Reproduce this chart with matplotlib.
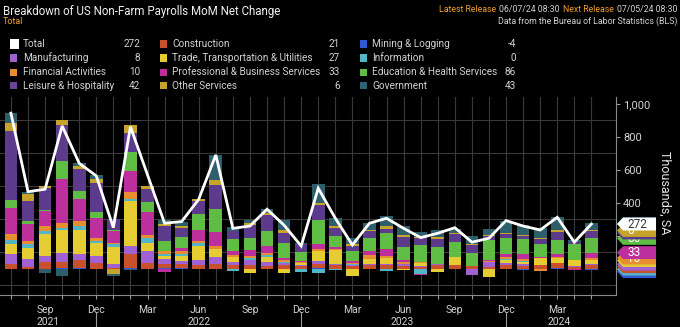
import numpy as np
import matplotlib
matplotlib.use('Agg')
import matplotlib.pyplot as plt
import matplotlib.transforms as mtrans
from matplotlib.patches import Polygon, Rectangle

plt.rcParams['font.family'] = ['Roboto', 'DejaVu Sans']

# monthly data, Jul 2021 .. May 2024 (thousands, SA)
months = ['Jul 2021', 'Aug 2021', 'Sep 2021', 'Oct 2021', 'Nov 2021', 'Dec 2021',
          'Jan 2022', 'Feb 2022', 'Mar 2022', 'Apr 2022', 'May 2022', 'Jun 2022',
          'Jul 2022', 'Aug 2022', 'Sep 2022', 'Oct 2022', 'Nov 2022', 'Dec 2022',
          'Jan 2023', 'Feb 2023', 'Mar 2023', 'Apr 2023', 'May 2023', 'Jun 2023',
          'Jul 2023', 'Aug 2023', 'Sep 2023', 'Oct 2023', 'Nov 2023', 'Dec 2023',
          'Jan 2024', 'Feb 2024', 'Mar 2024', 'Apr 2024', 'May 2024']

total = [944, 468, 483, 867, 640, 564, 250, 862, 570, 277, 287, 422,
         691, 246, 260, 362, 265, 139, 489, 307, 145, 277, 307, 246,
         190, 216, 250, 162, 186, 293, 260, 236, 313, 162, 272]

mining = [2, 2, 2, 4, 4, 2, 2, 4, 2, 4, 4, 2,
          2, 2, 2, 0, 0, 0, 4, 0, 0, 0, 0, 0,
          0, 0, 0, 0, 0, 0, -8, 0, 4, 0, -4]
construction = [28, 10, 40, 40, 48, 34, 6, 89, 34, 24, 24, 24,
                28, 20, 24, 20, 24, 20, 26, 24, 20, 24, 24, 20,
                14, 24, 24, 20, 14, 24, 20, 24, 34, 10, 21]
manufacturing = [60, 48, 35, 55, 36, 40, 24, 46, 70, 30, 20, 30,
                 40, 20, 30, 24, 14, 6, 20, 8, 6, 6, 6, 10,
                 6, 4, 0, -36, 28, 10, 10, 0, 0, 6, 8]
trade = [60, 64, 135, 135, 150, 80, 101, 273, 50, 20, 30, 80,
         52, 28, -26, 30, -26, 10, 58, 80, -42, 30, 34, -8,
         14, -20, 46, 0, -46, 20, 15, 40, 30, 40, 27]
information = [26, 26, 20, 12, 20, 14, 16, 10, 30, 10, 14, 24,
               0, -10, 8, 8, 6, -16, -26, -6, 4, 0, -10, 0,
               -30, 0, 0, 0, 0, 6, 6, 0, 0, 0, 0]
financial = [34, 20, 26, 34, 30, 20, 6, 46, 20, 20, 14, 8,
             14, 16, 14, 16, 8, 8, 10, 8, 6, 24, 14, 10,
             6, 0, 4, 0, 4, 10, 10, -10, 6, 0, 10]
professional = [158, 100, 95, 262, 135, 117, 75, 125, 141, -20, 20, 65,
                87, 20, 36, 40, 14, 6, 36, 10, 14, 26, 40, 14,
                -8, 0, 0, 0, 10, 20, 30, 10, 14, -6, 33]
education = [48, 20, 5, 111, 50, 40, 5, 117, 60, 60, 70, 97,
             140, 77, 75, 91, 91, 50, 141, 70, 60, 80, 97, 81,
             105, 105, 89, 75, 121, 100, 91, 80, 85, 95, 86]
leisure = [420, 120, 130, 218, 131, 172, 70, 115, 80, 90, 55, 80,
           145, 48, 77, 95, 60, 50, 90, 50, 30, 40, 30, 56,
           40, 50, 46, 50, 20, 20, 20, 26, 50, 10, 42]
other = [46, 44, 16, 34, 20, 26, -30, 50, 14, 14, 12, 16,
         30, 0, 10, 12, 20, 0, 16, 10, 14, 8, 14, 14,
         6, 10, 10, 4, 10, 8, 6, 6, 10, 4, 6]
government = [60, 12, -22, -40, 16, 24, -10, -8, 0, 26, 24, 0,
              155, 26, 18, 28, 60, 6, 112, 50, 36, 40, 60, 54,
              30, 40, 26, 50, 32, 75, 60, 60, 80, 8, 43]

names = ['Mining & Logging', 'Construction', 'Manufacturing',
         'Trade, Transportation & Utilities', 'Information', 'Financial Activities',
         'Professional & Business Services', 'Education & Health Services',
         'Leisure & Hospitality', 'Other Services', 'Government']
series = [mining, construction, manufacturing, trade, information, financial,
          professional, education, leisure, other, government]
colors = ['#3358d4', '#c8502c', '#a062d2', '#e4cc32', '#52b6c6', '#e68e30',
          '#be2f9e', '#5fbd44', '#5c3a8c', '#c6a42a', '#2c5e6c']
legend_colors = ['#3358d4', '#c8502c', '#a062d2', '#e4cc32', '#52b6c6', '#e68e30',
                 '#be2f9e', '#5fbd44', '#6a4598', '#c6a42a', '#2e6474']
# tags whose number can still be read at the right edge
tag_text = [False, False, False, False, False, True, True, True, False, True, False]

bg = 'black'
grid_c = '#3a3a3a'
txt_c = '#d2d2d2'
orange = '#f0a030'

fig = plt.figure(figsize=(6.8, 3.27), dpi=100, facecolor=bg)
W, H = 680, 327
ax = fig.add_axes([0, (H - 295) / H, 616 / W, (295 - 97) / H])
ax.set_facecolor(bg)

x = np.arange(len(months))
pos_base = np.zeros(len(months))
neg_base = np.zeros(len(months))
for vals, c in zip(series, colors):
    v = np.array(vals, dtype=float)
    p = np.where(v > 0, v, 0)
    n = np.where(v < 0, v, 0)
    ax.bar(x, p, 0.74, bottom=pos_base, color=c, zorder=2, linewidth=0)
    ax.bar(x, n, 0.74, bottom=neg_base, color=c, zorder=2, linewidth=0)
    pos_base += p
    neg_base += n

ax.plot(x, total, color='white', lw=2, zorder=4, solid_joinstyle='miter')

ax.set_xlim(-0.64, 35.44)
ax.set_ylim(-158, 1042)

# grid
ax.set_xticks(x)
month_lbl = {'Sep': 'Sep', 'Dec': 'Dec', 'Mar': 'Mar', 'Jun': 'Jun'}
ax.set_xticklabels([month_lbl.get(m[:3], '') for m in months], color=txt_c, fontsize=7.5)
ax.set_yticks(np.arange(0, 1001, 200))
ax.set_yticks(np.arange(-100, 1001, 100), minor=True)
ax.set_yticklabels(['0', '200', '400', '600', '800', '1,000'], color=txt_c, fontsize=8)
ax.grid(True, which='major', axis='x', color=grid_c, lw=0.8, zorder=0)
ax.grid(True, which='minor', axis='y', color=grid_c, lw=0.8, zorder=0)
ax.tick_params(axis='x', length=3, color='#9a9a9a', pad=4)
ax.tick_params(axis='y', which='major', length=3, color='#9a9a9a', pad=2,
               left=False, right=True, labelleft=False, labelright=True)
ax.tick_params(axis='y', which='minor', length=0)
for s in ['top', 'left']:
    ax.spines[s].set_visible(False)
for s in ['bottom', 'right']:
    ax.spines[s].set_color('#8a8a8a')
    ax.spines[s].set_linewidth(0.8)

# year labels and separators
bt = mtrans.blended_transform_factory(ax.transData, ax.transAxes)
for yr, xi in [('2021', 2.2), ('2022', 11), ('2023', 22.9), ('2024', 32.1)]:
    ax.text(xi, -0.135, yr, transform=bt, ha='center', va='center', color=txt_c, fontsize=7.5)
for xi in [5, 17, 29]:
    ax.plot([xi, xi], [-0.09, -0.17], transform=bt, color='#9a9a9a', lw=0.8, clip_on=False)

fig.text(665 / W, 1 - 193 / H, 'Thousands, SA', rotation=270,
         ha='center', va='center', color='#e6e6e6', fontsize=9)

# value tags at the right edge
last = [s[-1] for s in series]
tops = []
cum = 0
for v in last:
    if v > 0:
        cum += v
        tops.append(cum)
    else:
        tops.append(v)
order = sorted(range(len(series)), key=lambda i: -tops[i])
tag_y = {}
prev = None
for i in order:
    y = tops[i] if prev is None else min(tops[i], prev - 15)
    tag_y[i] = y
    prev = y
ft = mtrans.blended_transform_factory(fig.transFigure, ax.transData)
hh = 39
x0, x1, x2 = 617 / W, 623 / W, 656 / W


def tag(y, color, label, tcol, z):
    poly = Polygon([(x0, y), (x1, y + hh), (x2, y + hh), (x2, y - hh), (x1, y - hh)],
                   closed=True, transform=ft, facecolor=color, edgecolor='none',
                   clip_on=False, zorder=z)
    ax.add_patch(poly)
    if label:
        ax.text(627 / W, y, label, transform=ft, ha='left', va='center', color=tcol,
                fontsize=8.5, clip_on=False, zorder=z + 0.5)


z = 6
for i in sorted(order, key=lambda k: tag_y[k]):
    tag(tag_y[i], colors[i], str(last[i]) if tag_text[i] else '', 'white', z)
    z += 1
tag(total[-1], 'white', str(total[-1]), '#333333', z)

# header
fig.text(3 / W, 1 - 11 / H, 'Breakdown of US Non-Farm Payrolls MoM Net Change',
         color='#f0f0f0', fontsize=8.3, va='center', ha='left')
fig.text(3 / W, 1 - 21 / H, 'Total', color=orange, fontsize=6.5, va='center', ha='left')
rt = fig.text(677 / W, 1 - 10 / H, '07/05/24 08:30', color=txt_c, fontsize=6.3,
              va='center', ha='right')
fig.canvas.draw()
r = fig.canvas.get_renderer()
xpos = rt.get_window_extent(r).x0 - 3
for s, c in [('Next Release', orange), ('06/07/24 08:30', txt_c), ('Latest Release', orange)]:
    t = fig.text(xpos / W, 1 - 10 / H, s, color=c, fontsize=6.3, va='center', ha='right')
    xpos = t.get_window_extent(r).x0 - 3
fig.text(677 / W, 1 - 21 / H, 'Data from the Bureau of Labor Statistics (BLS)',
         color=txt_c, fontsize=6.3, va='center', ha='right')

# legend block
leg = [('Total', 'white', total[-1])] + [(n, c, v[-1]) for n, c, v in zip(names, legend_colors, series)]
cols = [(10, 23, 140), (160, 172, 340), (360, 372, 516)]
rows = [44, 58, 72, 86]
layout = [(0, 0, 0), (1, 0, 2), (2, 0, 1),
          (0, 1, 3), (1, 1, 4), (2, 1, 5),
          (0, 2, 6), (1, 2, 7), (2, 2, 8),
          (0, 3, 9), (1, 3, 10), (2, 3, 11)]
for ci, ri, k in layout:
    nm, c, v = leg[k]
    sx, tx, vx = cols[ci]
    yy = rows[ri]
    sz = 9 if k == 0 else 7
    fig.patches.append(Rectangle((sx / W, 1 - (yy + sz / 2) / H), sz / W, sz / H,
                                 transform=fig.transFigure, facecolor=c, edgecolor='none'))
    fig.text(tx / W, 1 - yy / H, nm, color=txt_c, fontsize=7.2, va='center', ha='left')
    fig.text(vx / W, 1 - yy / H, str(v), color=txt_c, fontsize=7.2, va='center', ha='right')

fig.savefig('out.png', dpi=100, facecolor=bg)
